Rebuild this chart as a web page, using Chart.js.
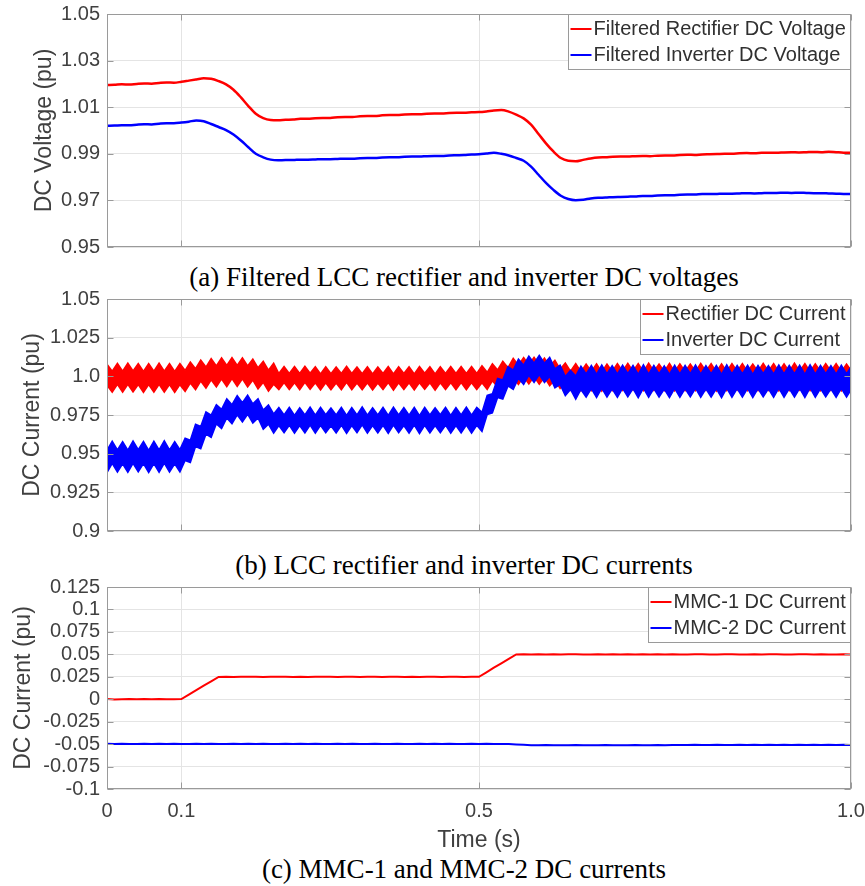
<!DOCTYPE html>
<html><head><meta charset="utf-8">
<script src="https://cdn.jsdelivr.net/npm/chart.js@4.4.1/dist/chart.umd.min.js"></script>
<style>
html,body{margin:0;padding:0;background:#fff;width:865px;height:886px;overflow:hidden;position:relative}
.cv{position:absolute;left:0;width:865px}
.cap{position:absolute;left:64px;width:800px;text-align:center;font-family:"Liberation Serif","Times New Roman",serif;font-size:27px;line-height:27px;color:#000;white-space:nowrap}
</style></head><body>
<div class="cv" style="top:0"><canvas id="ca" width="865" height="259"></canvas></div>
<div class="cap" style="top:264px">(a) Filtered LCC rectifier and inverter DC voltages</div>
<div class="cv" style="top:285px"><canvas id="cb" width="865" height="258"></canvas></div>
<div class="cap" style="top:552px">(b) LCC rectifier and inverter DC currents</div>
<div class="cv" style="top:573px"><canvas id="cc" width="865" height="281"></canvas></div>
<div class="cap" style="top:856px">(c) MMC-1 and MMC-2 DC currents</div>
<script>
// ---------- shared axis data ----------
const xTicks = [0, 0.1, 0.5, 1.0];
const xTickLabels = ['0', '0.1', '0.5', '1.0'];
const xTitle = 'Time (s)';

// ---------- (a) filtered DC voltages ----------
const timeA = [0,0.01,0.02,0.03,0.04,0.05,0.06,0.07,0.08,0.09,0.1,0.11,0.12,0.13,0.14,0.15,0.16,0.17,0.18,0.19,0.2,0.21,0.22,0.23,0.24,0.25,0.26,0.27,0.28,0.29,0.3,0.31,0.32,0.33,0.34,0.35,0.36,0.37,0.38,0.39,0.4,0.41,0.42,0.43,0.44,0.45,0.46,0.47,0.48,0.49,0.5,0.51,0.52,0.53,0.54,0.55,0.56,0.57,0.58,0.59,0.6,0.61,0.62,0.63,0.64,0.65,0.66,0.67,0.68,0.69,0.7,0.71,0.72,0.73,0.74,0.75,0.76,0.77,0.78,0.79,0.8,0.81,0.82,0.83,0.84,0.85,0.86,0.87,0.88,0.89,0.9,0.91,0.92,0.93,0.94,0.95,0.96,0.97,0.98,0.99,1.0];
const rectVoltA = [1.0195,1.0196,1.0198,1.0197,1.0200,1.0202,1.0201,1.0204,1.0206,1.0205,1.0209,1.0214,1.0219,1.0224,1.0222,1.0212,1.0198,1.0175,1.0142,1.0105,1.0072,1.0053,1.0045,1.0044,1.0046,1.0047,1.0050,1.0050,1.0053,1.0054,1.0054,1.0057,1.0058,1.0058,1.0061,1.0062,1.0062,1.0065,1.0066,1.0066,1.0069,1.0070,1.0070,1.0072,1.0073,1.0073,1.0075,1.0076,1.0076,1.0078,1.0079,1.0082,1.0086,1.0088,1.0081,1.0068,1.0052,1.0025,0.9985,0.9945,0.9910,0.9882,0.9870,0.9868,0.9874,0.9880,0.9884,0.9885,0.9887,0.9888,0.9888,0.9890,0.9891,0.9890,0.9892,0.9893,0.9893,0.9895,0.9896,0.9895,0.9897,0.9898,0.9899,0.9900,0.9900,0.9902,0.9903,0.9902,0.9904,0.9905,0.9904,0.9906,0.9907,0.9906,0.9907,0.9908,0.9907,0.9909,0.9907,0.9905,0.9904];
const invVoltA = [1.0020,1.0021,1.0023,1.0022,1.0025,1.0027,1.0026,1.0029,1.0031,1.0031,1.0034,1.0038,1.0043,1.0040,1.0028,1.0015,1.0002,0.9983,0.9957,0.9928,0.9900,0.9885,0.9875,0.9872,0.9873,0.9873,0.9875,0.9875,0.9876,0.9877,0.9877,0.9878,0.9879,0.9879,0.9881,0.9882,0.9882,0.9884,0.9885,0.9885,0.9887,0.9888,0.9888,0.9890,0.9891,0.9891,0.9893,0.9894,0.9895,0.9897,0.9898,0.9901,0.9904,0.9900,0.9893,0.9882,0.9870,0.9845,0.9810,0.9775,0.9745,0.9720,0.9706,0.9701,0.9703,0.9708,0.9711,0.9712,0.9714,0.9715,0.9716,0.9717,0.9719,0.9719,0.9721,0.9722,0.9722,0.9724,0.9725,0.9725,0.9727,0.9727,0.9728,0.9729,0.9729,0.9730,0.9731,0.9730,0.9731,0.9732,0.9732,0.9733,0.9732,0.9733,0.9732,0.9731,0.9731,0.9730,0.9729,0.9728,0.9727];
const yTicksA = [0.95, 0.97, 0.99, 1.01, 1.03, 1.05];
const yTickLabelsA = ['0.95', '0.97', '0.99', '1.01', '1.03', '1.05'];
const legendA = ['Filtered Rectifier DC Voltage', 'Filtered Inverter DC Voltage'];
const yTitleA = 'DC Voltage (pu)';

// ---------- (b) LCC DC currents (ripple band: upper / lower envelopes) ----------
const timeB = [0,0.007,0.014,0.021,0.028,0.035,0.042,0.049,0.056,0.063,
0.07,0.077,0.084,0.091,0.098,0.105,0.112,0.119,0.126,0.133,
0.14,0.147,0.154,0.161,0.168,0.175,0.182,0.189,0.196,0.203,
0.21,0.217,0.224,0.231,0.238,0.245,0.252,0.259,0.266,0.273,
0.28,0.287,0.294,0.301,0.308,0.315,0.322,0.329,0.336,0.343,
0.35,0.357,0.364,0.371,0.378,0.385,0.392,0.399,0.406,0.413,
0.42,0.427,0.434,0.441,0.448,0.455,0.462,0.469,0.476,0.483,
0.49,0.497,0.504,0.511,0.518,0.525,0.532,0.539,0.546,0.553,
0.56,0.567,0.574,0.581,0.588,0.595,0.602,0.609,0.616,0.623,
0.63,0.637,0.644,0.651,0.658,0.665,0.672,0.679,0.686,0.693,
0.7,0.707,0.714,0.721,0.728,0.735,0.742,0.749,0.756,0.763,
0.77,0.777,0.784,0.791,0.798,0.805,0.812,0.819,0.826,0.833,
0.84,0.847,0.854,0.861,0.868,0.875,0.882,0.889,0.896,0.903,
0.91,0.917,0.924,0.931,0.938,0.945,0.952,0.959,0.966,0.973,
0.98,0.987,0.994,1.001];
const rectCurUpperB = [1.0078,1.0033,1.0084,1.0034,1.0085,1.0035,1.0083,1.0032,1.0082,1.0033,
1.0085,1.0034,1.0083,1.0032,1.0082,1.0038,1.0093,1.0049,1.0105,1.0060,
1.0114,1.0067,1.0119,1.0070,1.0121,1.0071,1.0120,1.0067,1.0112,1.0055,
1.0097,1.0040,1.0085,1.0018,1.0064,1.0019,1.0063,1.0018,1.0065,1.0020,
1.0062,1.0016,1.0062,1.0017,1.0061,1.0018,1.0065,1.0018,1.0060,1.0017,
1.0062,1.0016,1.0061,1.0018,1.0063,1.0015,1.0062,1.0019,1.0062,1.0016,
1.0063,1.0020,1.0062,1.0015,1.0062,1.0019,1.0063,1.0018,1.0064,1.0018,
1.0063,1.0019,1.0069,1.0026,1.0081,1.0041,1.0097,1.0056,1.0116,1.0072,
1.0122,1.0075,1.0123,1.0073,1.0118,1.0064,1.0104,1.0046,1.0086,1.0034,
1.0082,1.0030,1.0080,1.0031,1.0081,1.0029,1.0079,1.0032,1.0083,1.0033,
1.0084,1.0034,1.0082,1.0031,1.0085,1.0033,1.0079,1.0032,1.0083,1.0030,
1.0081,1.0032,1.0080,1.0031,1.0084,1.0033,1.0082,1.0029,1.0081,1.0032,
1.0083,1.0034,1.0082,1.0031,1.0079,1.0032,1.0084,1.0033,1.0082,1.0030,
1.0081,1.0032,1.0085,1.0034,1.0082,1.0031,1.0081,1.0032,1.0083,1.0033,
1.0082,1.0030,1.0080,1.0032];
const rectCurLowerB = [0.9942,0.9897,0.9948,0.9898,0.9949,0.9899,0.9947,0.9896,0.9946,0.9897,
0.9949,0.9898,0.9947,0.9896,0.9946,0.9902,0.9957,0.9913,0.9969,0.9924,
0.9978,0.9931,0.9983,0.9934,0.9985,0.9935,0.9984,0.9931,0.9976,0.9919,
0.9961,0.9904,0.9949,0.9914,0.9960,0.9915,0.9959,0.9914,0.9961,0.9916,
0.9958,0.9912,0.9958,0.9913,0.9957,0.9914,0.9961,0.9914,0.9956,0.9913,
0.9958,0.9912,0.9957,0.9914,0.9959,0.9911,0.9958,0.9915,0.9958,0.9912,
0.9959,0.9916,0.9958,0.9911,0.9958,0.9915,0.9959,0.9914,0.9960,0.9914,
0.9959,0.9915,0.9959,0.9916,0.9971,0.9931,0.9987,0.9946,0.9992,0.9948,
0.9998,0.9951,0.9999,0.9949,0.9994,0.9940,0.9980,0.9922,0.9962,0.9910,
0.9958,0.9906,0.9956,0.9907,0.9957,0.9905,0.9955,0.9908,0.9959,0.9909,
0.9960,0.9910,0.9958,0.9907,0.9961,0.9909,0.9955,0.9908,0.9959,0.9906,
0.9957,0.9908,0.9956,0.9907,0.9960,0.9909,0.9958,0.9905,0.9957,0.9908,
0.9959,0.9910,0.9958,0.9907,0.9955,0.9908,0.9960,0.9909,0.9958,0.9906,
0.9957,0.9908,0.9961,0.9910,0.9958,0.9907,0.9957,0.9908,0.9959,0.9909,
0.9958,0.9906,0.9956,0.9908];
const invCurUpperB = [0.9522,0.9581,0.9525,0.9578,0.9523,0.9582,0.9526,0.9579,0.9522,0.9580,
0.9524,0.9583,0.9525,0.9578,0.9526,0.9600,0.9587,0.9690,0.9676,0.9770,
0.9749,0.9817,0.9787,0.9855,0.9817,0.9875,0.9829,0.9879,0.9822,0.9855,
0.9782,0.9815,0.9757,0.9798,0.9751,0.9800,0.9748,0.9797,0.9750,0.9801,
0.9749,0.9799,0.9752,0.9796,0.9750,0.9800,0.9747,0.9798,0.9751,0.9802,
0.9749,0.9797,0.9750,0.9799,0.9748,0.9801,0.9751,0.9798,0.9749,0.9800,
0.9746,0.9799,0.9750,0.9797,0.9752,0.9800,0.9748,0.9798,0.9750,0.9801,
0.9749,0.9799,0.9767,0.9877,0.9887,0.9987,0.9977,1.0062,1.0040,1.0112,
1.0072,1.0131,1.0085,1.0136,1.0084,1.0123,1.0049,1.0072,0.9999,1.0039,
1.0002,1.0065,1.0015,1.0071,1.0013,1.0073,1.0016,1.0069,1.0014,1.0072,
1.0017,1.0070,1.0012,1.0074,1.0015,1.0071,1.0016,1.0068,1.0013,1.0072,
1.0015,1.0070,1.0017,1.0073,1.0014,1.0069,1.0016,1.0071,1.0012,1.0074,
1.0015,1.0070,1.0016,1.0072,1.0013,1.0071,1.0017,1.0069,1.0014,1.0073,
1.0015,1.0070,1.0016,1.0072,1.0013,1.0075,1.0015,1.0071,1.0017,1.0069,
1.0014,1.0072,1.0016,1.0070];
const invCurLowerB = [0.9378,0.9437,0.9381,0.9434,0.9379,0.9438,0.9382,0.9435,0.9378,0.9436,
0.9380,0.9439,0.9381,0.9434,0.9382,0.9456,0.9443,0.9546,0.9532,0.9626,
0.9605,0.9693,0.9663,0.9731,0.9693,0.9751,0.9705,0.9755,0.9698,0.9731,
0.9658,0.9691,0.9633,0.9682,0.9635,0.9684,0.9632,0.9681,0.9634,0.9685,
0.9633,0.9683,0.9636,0.9680,0.9634,0.9684,0.9631,0.9682,0.9635,0.9686,
0.9633,0.9681,0.9634,0.9683,0.9632,0.9685,0.9635,0.9682,0.9633,0.9684,
0.9630,0.9683,0.9634,0.9681,0.9636,0.9684,0.9632,0.9682,0.9634,0.9685,
0.9633,0.9683,0.9643,0.9753,0.9763,0.9863,0.9853,0.9938,0.9916,0.9988,
0.9948,1.0007,0.9961,1.0012,0.9960,0.9999,0.9925,0.9948,0.9875,0.9915,
0.9852,0.9915,0.9865,0.9921,0.9863,0.9923,0.9866,0.9919,0.9864,0.9922,
0.9867,0.9920,0.9862,0.9924,0.9865,0.9921,0.9866,0.9918,0.9863,0.9922,
0.9865,0.9920,0.9867,0.9923,0.9864,0.9919,0.9866,0.9921,0.9862,0.9924,
0.9865,0.9920,0.9866,0.9922,0.9863,0.9921,0.9867,0.9919,0.9864,0.9923,
0.9865,0.9920,0.9866,0.9922,0.9863,0.9925,0.9865,0.9921,0.9867,0.9919,
0.9864,0.9922,0.9866,0.9920];
const yTicksB = [0.9, 0.925, 0.95, 0.975, 1.0, 1.025, 1.05];
const yTickLabelsB = ['0.9', '0.925', '0.95', '0.975', '1.0', '1.025', '1.05'];
const legendB = ['Rectifier DC Current', 'Inverter DC Current'];
const yTitleB = 'DC Current (pu)';

// ---------- (c) MMC DC currents ----------
const timeC = timeA;
const mmc1CurC = [0.0002,-0.0002,0.0001,0.0003,-0.0001,0.0002,0.0000,0.0003,0.0001,-0.0001,0.0002,0.0052,0.0101,0.0152,0.0200,0.0248,0.0250,0.0248,0.0251,0.0249,0.0251,0.0247,0.0250,0.0249,0.0251,0.0248,0.0250,0.0247,0.0250,0.0249,0.0251,0.0248,0.0249,0.0250,0.0247,0.0249,0.0250,0.0248,0.0251,0.0249,0.0248,0.0250,0.0247,0.0249,0.0250,0.0248,0.0249,0.0251,0.0248,0.0250,0.0250,0.0300,0.0351,0.0400,0.0450,0.0499,0.0500,0.0498,0.0501,0.0499,0.0500,0.0498,0.0500,0.0501,0.0499,0.0498,0.0500,0.0499,0.0501,0.0498,0.0500,0.0499,0.0500,0.0498,0.0501,0.0499,0.0500,0.0498,0.0499,0.0501,0.0500,0.0498,0.0499,0.0500,0.0501,0.0499,0.0498,0.0500,0.0499,0.0501,0.0500,0.0498,0.0499,0.0500,0.0501,0.0499,0.0500,0.0498,0.0499,0.0500,0.0499];
const mmc2CurC = [-0.0497,-0.0499,-0.0496,-0.0498,-0.0500,-0.0497,-0.0499,-0.0496,-0.0498,-0.0497,-0.0499,-0.0498,-0.0496,-0.0499,-0.0497,-0.0498,-0.0500,-0.0497,-0.0498,-0.0496,-0.0499,-0.0497,-0.0498,-0.0500,-0.0497,-0.0498,-0.0496,-0.0499,-0.0497,-0.0498,-0.0499,-0.0497,-0.0498,-0.0496,-0.0499,-0.0498,-0.0497,-0.0499,-0.0498,-0.0496,-0.0498,-0.0499,-0.0497,-0.0498,-0.0496,-0.0499,-0.0497,-0.0498,-0.0500,-0.0497,-0.0498,-0.0497,-0.0499,-0.0498,-0.0500,-0.0503,-0.0508,-0.0512,-0.0513,-0.0511,-0.0514,-0.0512,-0.0513,-0.0511,-0.0512,-0.0514,-0.0512,-0.0511,-0.0513,-0.0512,-0.0514,-0.0511,-0.0512,-0.0513,-0.0511,-0.0512,-0.0510,-0.0509,-0.0511,-0.0508,-0.0510,-0.0509,-0.0508,-0.0510,-0.0509,-0.0507,-0.0509,-0.0508,-0.0510,-0.0508,-0.0509,-0.0507,-0.0509,-0.0508,-0.0510,-0.0508,-0.0509,-0.0507,-0.0509,-0.0508,-0.0509];
const yTicksC = [-0.1, -0.075, -0.05, -0.025, 0, 0.025, 0.05, 0.075, 0.1, 0.125];
const yTickLabelsC = ['-0.1', '-0.075', '-0.05', '-0.025', '0', '0.025', '0.05', '0.075', '0.1', '0.125'];
const legendC = ['MMC-1 DC Current', 'MMC-2 DC Current'];
const yTitleC = 'DC Current (pu)';

// ---------- styling ----------
const RED = '#ff0000', BLUE = '#0000ff';
const FONT = '"Liberation Sans", Arial, Helvetica, sans-serif';
const TEXT = '#404040', GRID = '#e4e4e4', FRAME = '#9a9a9a';

function pts(xs, ys) { return xs.map((x, i) => ({x: x, y: ys[i]})); }

function framePlugin(items) {
  return {
    id: 'frameLegend',
    afterDraw(chart) {
      const {ctx, chartArea: a} = chart;
      const xs = chart.scales.x, ys = chart.scales.y;
      ctx.save();
      ctx.strokeStyle = FRAME; ctx.lineWidth = 1;
      const L = Math.round(a.left) + 0.5, R = Math.round(a.right) - 0.5;
      const T = Math.round(a.top) + 0.5, B = Math.round(a.bottom) - 0.5;
      ctx.strokeRect(L, T, R - L, B - T);
      ctx.beginPath();
      ys.ticks.forEach(t => {
        const p = Math.round(ys.getPixelForValue(t.value)) + 0.5;
        ctx.moveTo(L, p); ctx.lineTo(L + 6, p);
        ctx.moveTo(R, p); ctx.lineTo(R - 6, p);
      });
      xs.ticks.forEach(t => {
        const p = Math.round(xs.getPixelForValue(t.value)) + 0.5;
        ctx.moveTo(p, B); ctx.lineTo(p, B - 6);
        ctx.moveTo(p, T); ctx.lineTo(p, T + 6);
      });
      ctx.stroke();
      // legend box
      ctx.font = '20px ' + FONT;
      const tw = Math.max(...items.map(it => ctx.measureText(it.text).width));
      const rowH = 26, lineW = 21;
      const w = 2 + lineW + 2 + tw + 5;
      const h = items.length * rowH + 3;
      const bx = Math.round(R - w) + 0.5, by = T;
      ctx.fillStyle = '#fff';
      ctx.fillRect(bx, by, R - bx, h);
      ctx.strokeStyle = FRAME;
      ctx.strokeRect(bx, by, R - bx, h);
      items.forEach((it, i) => {
        const cy = by + 1.5 + rowH * (i + 0.5);
        ctx.strokeStyle = it.color; ctx.lineWidth = 2;
        ctx.beginPath(); ctx.moveTo(bx + 2, cy); ctx.lineTo(bx + 2 + lineW, cy); ctx.stroke();
        ctx.fillStyle = '#303030'; ctx.textBaseline = 'middle'; ctx.textAlign = 'left';
        ctx.fillText(it.text, bx + 4 + lineW, cy);
      });
      ctx.restore();
    }
  };
}

function buildOptions(c) {
  return {
    responsive: false, animation: false, devicePixelRatio: 1,
    layout: {padding: {left: 0, right: 14, top: c.padTop, bottom: c.padBottom}},
    plugins: {legend: {display: false}, tooltip: {enabled: false}},
    elements: {point: {radius: 0}},
    scales: {
      x: {
        type: 'linear', min: 0, max: 1,
        afterBuildTicks: s => { s.ticks = xTicks.map(v => ({value: v})); },
        afterFit: s => { s.height = c.xHeight; s.paddingLeft = 0; s.paddingRight = 0; s.paddingTop = 0; s.paddingBottom = 0; },
        ticks: {display: c.showX, autoSkip: false, maxRotation: 0, padding: 10, color: TEXT,
                font: {family: FONT, size: 20}, callback: (v, i) => xTickLabels[i]},
        grid: {color: GRID, drawTicks: false},
        border: {display: false},
        title: {display: c.showX, text: xTitle, color: TEXT, font: {family: FONT, size: 23}, padding: {top: 3, bottom: 0}}
      },
      y: {
        type: 'linear', min: c.yTicks[0], max: c.yTicks[c.yTicks.length - 1],
        afterBuildTicks: s => { s.ticks = c.yTicks.map(v => ({value: v})); },
        afterFit: s => { s.width = 107; s.paddingTop = 0; s.paddingBottom = 0; s.paddingLeft = 0; s.paddingRight = 0; },
        ticks: {autoSkip: false, padding: 7, color: TEXT, font: {family: FONT, size: 20}, callback: (v, i) => c.yLabels[i]},
        grid: {color: GRID, drawTicks: false},
        border: {display: false},
        title: {display: true, text: c.yTitle, color: TEXT, font: {family: FONT, size: 23}, padding: {top: c.titlePad, bottom: 0}}
      }
    }
  };
}

// (a)
new Chart(document.getElementById('ca'), {
  type: 'line',
  data: {datasets: [
    {data: pts(timeA, rectVoltA), borderColor: RED, borderWidth: 2.5, fill: false, cubicInterpolationMode: 'monotone'},
    {data: pts(timeA, invVoltA), borderColor: BLUE, borderWidth: 2.5, fill: false, cubicInterpolationMode: 'monotone'}
  ]},
  options: buildOptions({padTop: 14, padBottom: 12, xHeight: 0, showX: false, yTicks: yTicksA, yLabels: yTickLabelsA, yTitle: yTitleA, titlePad: 31}),
  plugins: [framePlugin([{text: legendA[0], color: RED}, {text: legendA[1], color: BLUE}])]
});

// (b)
new Chart(document.getElementById('cb'), {
  type: 'line',
  data: {datasets: [
    {data: pts(timeB, rectCurUpperB), borderColor: RED, backgroundColor: RED, borderWidth: 1.5, fill: '+1', order: 1},
    {data: pts(timeB, rectCurLowerB), borderColor: RED, borderWidth: 1.5, fill: false, order: 1},
    {data: pts(timeB, invCurUpperB), borderColor: BLUE, backgroundColor: BLUE, borderWidth: 1.5, fill: '+1', order: 0},
    {data: pts(timeB, invCurLowerB), borderColor: BLUE, borderWidth: 1.5, fill: false, order: 0}
  ]},
  options: buildOptions({padTop: 14, padBottom: 12, xHeight: 0, showX: false, yTicks: yTicksB, yLabels: yTickLabelsB, yTitle: yTitleB, titlePad: 19}),
  plugins: [framePlugin([{text: legendB[0], color: RED}, {text: legendB[1], color: BLUE}])]
});

// (c)
new Chart(document.getElementById('cc'), {
  type: 'line',
  data: {datasets: [
    {data: pts(timeC, mmc1CurC), borderColor: RED, borderWidth: 2, fill: false},
    {data: pts(timeC, mmc2CurC), borderColor: BLUE, borderWidth: 2, fill: false}
  ]},
  options: buildOptions({padTop: 14, padBottom: 0, xHeight: 65, showX: true, yTicks: yTicksC, yLabels: yTickLabelsC, yTitle: yTitleC, titlePad: 10}),
  plugins: [framePlugin([{text: legendC[0], color: RED}, {text: legendC[1], color: BLUE}])]
});
</script>
</body></html>
